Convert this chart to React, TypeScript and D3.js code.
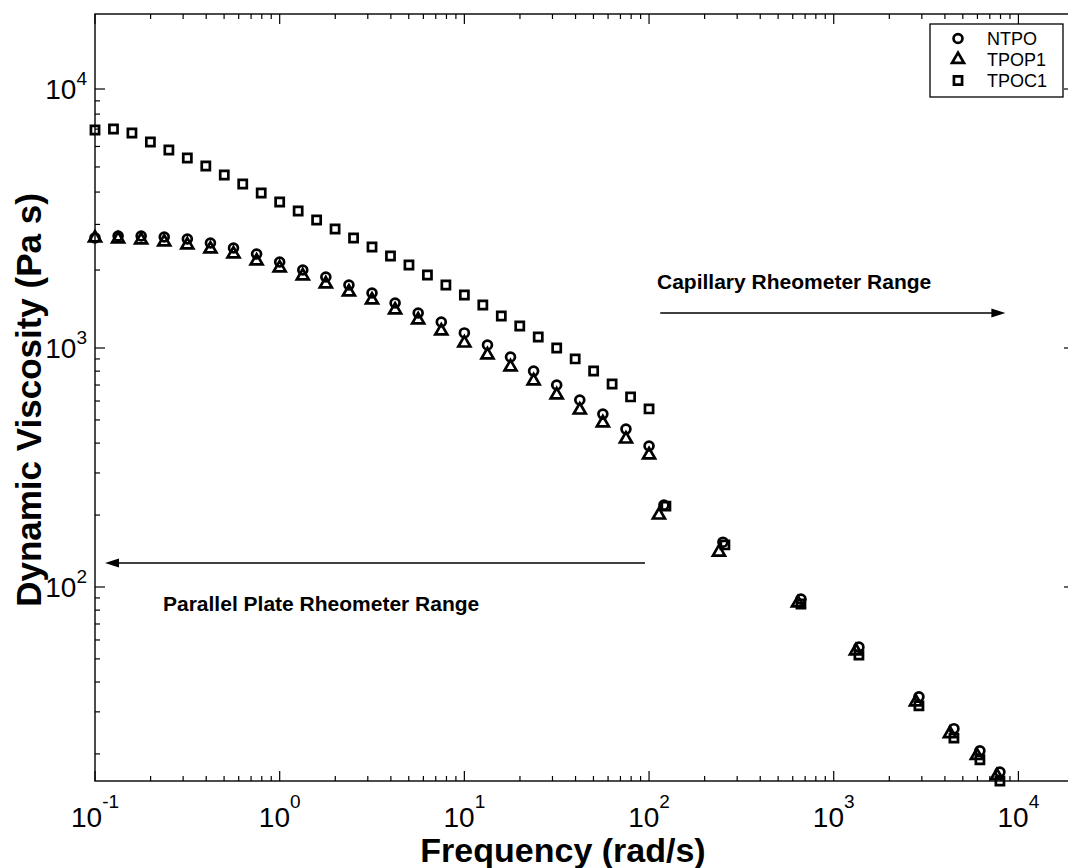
import React from 'react';
import * as d3 from 'd3';

const FONT = '"Liberation Sans", Arial, Helvetica, sans-serif';

// ---- data (rad/s, Pa s) ----
const ntpoFreq = [0.1, 0.1334, 0.1778, 0.2371, 0.3162, 0.4217, 0.5623, 0.7499, 1, 1.334, 1.778, 2.371, 3.162, 4.217, 5.623, 7.499, 10, 13.34, 17.78, 23.71, 31.62, 42.17, 56.23, 74.99, 100,
  120.4, 251.2, 664.5, 1369, 2893, 4476, 6188, 7941];
const ntpoVisc = [2660, 2706, 2706, 2683, 2635, 2543, 2433, 2307, 2148, 2001, 1880, 1751, 1631, 1492, 1365, 1260, 1143, 1027, 917, 801, 700, 606, 529, 458, 389,
  220, 154, 89, 56, 34.7, 25.5, 20.6, 16.8];

const tpop1Freq = [0.1, 0.1334, 0.1778, 0.2371, 0.3162, 0.4217, 0.5623, 0.7499, 1, 1.334, 1.778, 2.371, 3.162, 4.217, 5.623, 7.499, 10, 13.34, 17.78, 23.71, 31.62, 42.17, 56.23, 74.99, 100,
  113.1, 239, 640, 1319, 2787, 4258, 5962, 7648];
const tpop1Visc = [2659, 2635, 2612, 2566, 2499, 2411, 2307, 2167, 2037, 1897, 1767, 1645, 1532, 1402, 1283, 1163, 1045, 935, 833, 728, 636, 550, 486, 416, 357,
  200, 140, 85.7, 54, 33, 24.3, 19.7, 16.2];

const tpoc1Freq = [0.1, 0.1259, 0.1585, 0.1995, 0.2512, 0.3162, 0.3981, 0.5012, 0.631, 0.7943, 1, 1.259, 1.585, 1.995, 2.512, 3.162, 3.981, 5.012, 6.31, 7.943, 10, 12.59, 15.85, 19.95, 25.12, 31.62, 39.81, 50.12, 63.1, 79.43, 100,
  123.4, 257.5, 664.5, 1369, 2893, 4476, 6188, 7941];
const tpoc1Visc = [6945, 7007, 6761, 6243, 5814, 5414, 5042, 4656, 4298, 3967, 3662, 3381, 3121, 2881, 2659, 2455, 2266, 2092, 1913, 1751, 1602, 1466, 1329, 1216, 1103, 1000, 900, 801, 707, 624, 556,
  218, 150, 84.9, 51.9, 31.8, 23.3, 18.9, 15.4];

const seriesNames = ['NTPO', 'TPOP1', 'TPOC1'];
const seriesShapes = ['circle', 'triangle', 'square'];

const xDomain = [0.1, 20000];
const yDomain = [15.4, 100, 1000, 10000, 19480];

const xTitle = 'Frequency (rad/s)';
const yTitle = 'Dynamic Viscosity (Pa s)';
const capText = 'Capillary Rheometer Range';
const ppText = 'Parallel Plate Rheometer Range';

const W = 1068;
const H = 868;
const L = 95, R = 1074, T = 14, B = 781;
const yRange = [B, 587, 348, 89, T];

const symbolFor: Record<string, d3.SymbolType> = {
  circle: d3.symbolCircle,
  triangle: d3.symbolTriangle,
  square: d3.symbolSquare,
};
const sizeFor: Record<string, number> = { circle: 62, triangle: 62, square: 66 };

function Marker({ shape, cx, cy }: { shape: string; cx: number; cy: number }) {
  const p = d3.symbol().type(symbolFor[shape]).size(sizeFor[shape])() as string;
  return <path d={p} transform={`translate(${cx},${cy})`} fill="none" stroke="#000" strokeWidth={2.7} />;
}

export default function App() {
  const x = d3.scaleLog().domain(xDomain).range([L, R]);
  const y = d3.scaleLog().domain(yDomain).range(yRange);

  const isMajor = (v: number) => Math.abs(Math.log10(v) - Math.round(Math.log10(v))) < 1e-9;
  const xt = x.ticks();
  const yt = y.ticks();

  const series = [
    { f: ntpoFreq, v: ntpoVisc },
    { f: tpop1Freq, v: tpop1Visc },
    { f: tpoc1Freq, v: tpoc1Visc },
  ];

  const legendX = 930, legendY = 24, legendW = 133, legendH = 73;
  const capArrowY = 313;
  const ppArrowY = 563;

  return (
    <svg width={W} height={H} style={{ position: 'absolute', left: 0, top: 0, background: '#fff' }} fontFamily={FONT}>
      <rect x={0} y={0} width={W} height={H} fill="#fff" />
      {/* frame */}
      <rect x={L} y={T} width={R - L} height={B - T} fill="none" stroke="#000" strokeWidth={1.4} />
      {/* x ticks */}
      {xt.map((v, i) => {
        const len = isMajor(v) ? 10 : 5;
        const px = x(v);
        return (
          <g key={'xt' + i}>
            <line x1={px} x2={px} y1={B} y2={B - len} stroke="#000" strokeWidth={1.2} />
            <line x1={px} x2={px} y1={T} y2={T + len} stroke="#000" strokeWidth={1.2} />
          </g>
        );
      })}
      {yt.map((v, i) => {
        const len = isMajor(v) ? 10 : 5;
        const py = y(v);
        return (
          <g key={'yt' + i}>
            <line x1={L} x2={L + len} y1={py} y2={py} stroke="#000" strokeWidth={1.2} />
            <line x1={R} x2={R - len} y1={py} y2={py} stroke="#000" strokeWidth={1.2} />
          </g>
        );
      })}
      {/* x tick labels */}
      {xt.filter(isMajor).filter((v) => v <= 10000).map((v, i) => (
        <text key={'xl' + i} x={x(v)} y={827} textAnchor="middle" fontSize={28} fill="#000">
          10<tspan dy={-19} fontSize={19}>{String(Math.round(Math.log10(v)))}</tspan>
        </text>
      ))}
      {/* y tick labels */}
      {yt.filter(isMajor).map((v, i) => (
        <text key={'yl' + i} x={87} y={y(v) + 10} textAnchor="end" fontSize={28} fill="#000">
          10<tspan dy={-14} fontSize={19}>{String(Math.round(Math.log10(v)))}</tspan>
        </text>
      ))}
      {/* axis titles */}
      <text x={563} y={862} textAnchor="middle" fontSize={34} fontWeight="bold" fill="#000">{xTitle}</text>
      <text transform={`translate(41,${400}) rotate(-90)`} textAnchor="middle" fontSize={35} fontWeight="bold" fill="#000">{yTitle}</text>

      {/* data */}
      {series.map((s, si) => (
        <g key={'s' + si}>
          {s.f.map((f, i) => (
            <Marker key={i} shape={seriesShapes[si]} cx={x(f)} cy={y(s.v[i])} />
          ))}
        </g>
      ))}

      {/* annotations */}
      <text x={657} y={289} fontSize={21} fontWeight="bold" fill="#000">{capText}</text>
      <line x1={x(115)} x2={x(8500) - 12} y1={capArrowY} y2={capArrowY} stroke="#000" strokeWidth={1.3} />
      <path d={`M${x(8500)},${capArrowY} L${x(8500) - 14},${capArrowY - 4.5} L${x(8500) - 14},${capArrowY + 4.5} Z`} fill="#000" />

      <line x1={x(0.1) + 22} x2={x(95)} y1={ppArrowY} y2={ppArrowY} stroke="#000" strokeWidth={1.3} />
      <path d={`M${x(0.1) + 10},${ppArrowY} L${x(0.1) + 24},${ppArrowY - 4.5} L${x(0.1) + 24},${ppArrowY + 4.5} Z`} fill="#000" />
      <text x={163} y={611} fontSize={21} fontWeight="bold" fill="#000">{ppText}</text>

      {/* legend */}
      <rect x={legendX} y={legendY} width={legendW} height={legendH} fill="#fff" stroke="#000" strokeWidth={1.3} />
      {seriesNames.map((n, i) => (
        <g key={'lg' + i}>
          <Marker shape={seriesShapes[i]} cx={958} cy={legendY + 14.5 + i * 21} />
          <text x={987} y={legendY + 14.5 + i * 21 + 6.5} fontSize={18} fill="#000">{n}</text>
        </g>
      ))}
    </svg>
  );
}
